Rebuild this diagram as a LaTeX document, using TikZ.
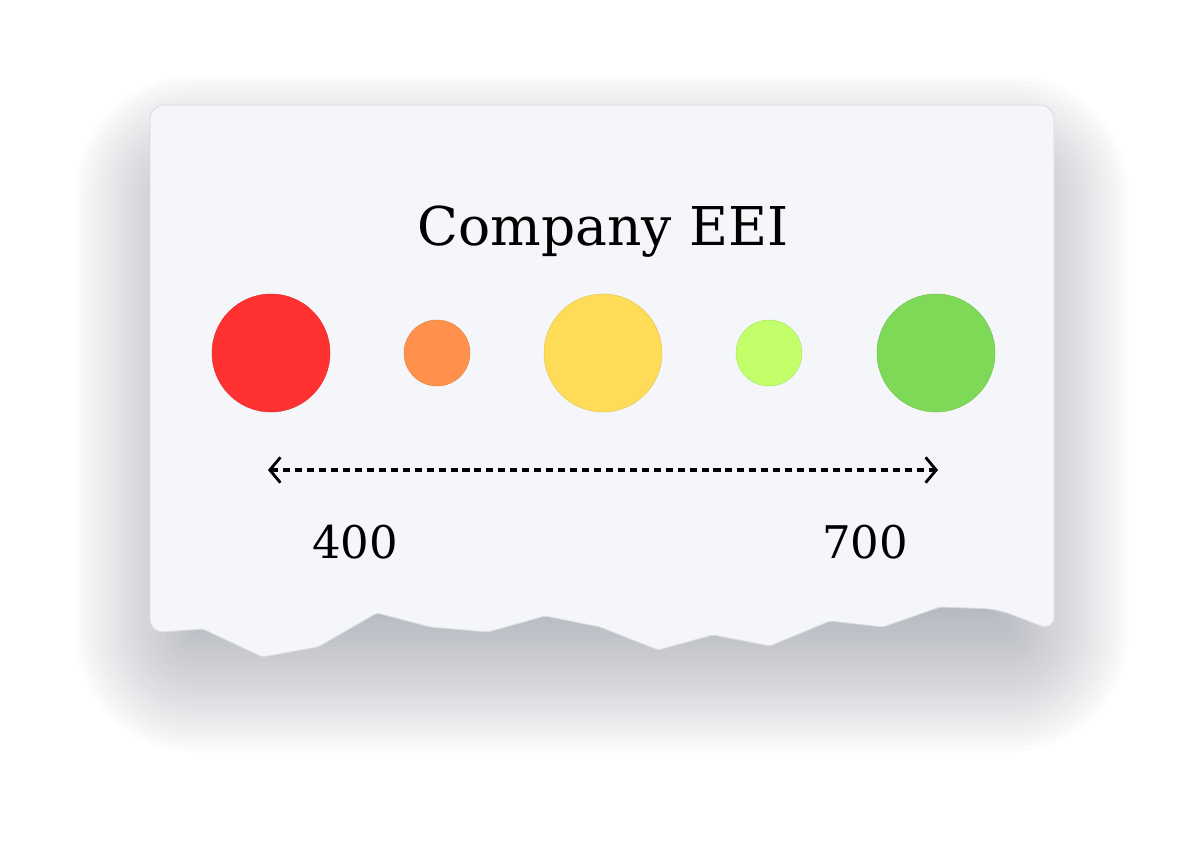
\documentclass[tikz,border=0pt]{standalone}
\usepackage{xcolor}
\usepackage{fontspec}
\setmainfont{DejaVu Serif}
\usetikzlibrary{arrows.meta}

\definecolor{cardbg}{HTML}{F5F6FA}
\definecolor{cardline}{HTML}{D9DBE1}
\definecolor{shadowgray}{RGB}{110,115,130}
\definecolor{eeired}{HTML}{FF3131}
\definecolor{eeiorange}{HTML}{FF914D}
\definecolor{eeiyellow}{HTML}{FFDC58}
\definecolor{eeilime}{HTML}{C2FF6B}
\definecolor{eeigreen}{HTML}{7ED957}

% outline of the torn card
\newcommand{\cardoutline}{(150,300) [rounded corners=10pt] -- (150,105) -- (1054,105)
  -- (1054,631) -- (997,609) [rounded corners=1.5pt] -- (940,607) -- (883,627)
  -- (830,621) -- (770,646) -- (713,635) -- (658,650) -- (600,627)
  -- (545,616) -- (488,632) -- (430,627) -- (377,613) -- (318,647)
  -- (262,657) -- (203,629) [rounded corners=10pt] -- (150,633) -- cycle}

\begin{document}
\begin{tikzpicture}[x=0.025cm, y=-0.025cm,
    dot/.style={circle, inner sep=0pt, fill=#1, draw=#1!88!black, line width=0.3pt},
    big/.style={minimum size=2.95cm},
    small/.style={minimum size=1.65cm},
    lbl/.style={anchor=base, font=\fontsize{32}{36}\selectfont}]
  \useasboundingbox (0,0) rectangle (1200,848);

  % soft shadow from stacked rounded boxes
  \foreach \r in {-40,-35,...,100} {
    \pgfmathsetmacro\rc{max(2,20+\r)*0.711}
    \fill[shadowgray, opacity=0.024, rounded corners=\rc pt]
      (175-\r,175-\r) rectangle (1029+\r,652+\r);
  }

  % card
  \draw[fill=cardbg, draw=cardline, line width=0.6pt] \cardoutline;

  \node[anchor=base, font=\fontsize{38}{44}\selectfont] (title) at (603,245) {Company EEI};

  \node[dot=eeired, big] (red) at (271,353) {};
  \node[dot=eeiorange, small] (orange) at (437,353) {};
  \node[dot=eeiyellow, big] (yellow) at (603,353) {};
  \node[dot=eeilime, small] (lime) at (769,353) {};
  \node[dot=eeigreen, big] (green) at (936,353) {};

  \coordinate (lo) at (268,470);
  \coordinate (hi) at (938,470);
  \draw[line width=2.2pt, dash pattern=on 5pt off 3.5pt,
    >={Straight Barb[length=7.5pt, width=18pt, line width=2pt]}, <->] (lo) -- (hi);

  \node[lbl] (low) at (355,558) {400};
  \node[lbl] (high) at (865,558) {700};
\end{tikzpicture}
\end{document}
